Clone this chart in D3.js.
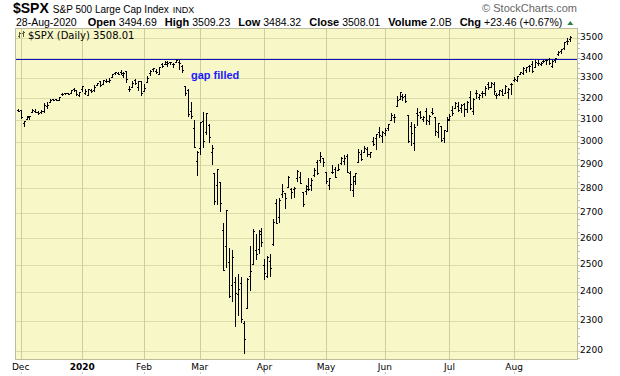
<!DOCTYPE html>
<html>
<head>
<meta charset="utf-8">
<script src="https://cdn.jsdelivr.net/npm/d3@7/dist/d3.min.js"></script>
<style>
  body { margin: 0; background: #fff; }
  svg { display: block; }
</style>
</head>
<body>
<div id="chart"><svg width="620" height="376"></svg></div>
<script>
// ---- data: $SPX daily bars, 29-Nov-2019 .. 28-Aug-2020 ----
const dates = [
  "2019-11-29",
  "2019-12-02","2019-12-03","2019-12-04","2019-12-05","2019-12-06","2019-12-09","2019-12-10","2019-12-11","2019-12-12","2019-12-13",
  "2019-12-16","2019-12-17","2019-12-18","2019-12-19","2019-12-20","2019-12-23","2019-12-24","2019-12-26","2019-12-27","2019-12-30","2019-12-31",
  "2020-01-02","2020-01-03","2020-01-06","2020-01-07","2020-01-08","2020-01-09","2020-01-10","2020-01-13","2020-01-14","2020-01-15","2020-01-16",
  "2020-01-17","2020-01-21","2020-01-22","2020-01-23","2020-01-24","2020-01-27","2020-01-28","2020-01-29","2020-01-30","2020-01-31",
  "2020-02-03","2020-02-04","2020-02-05","2020-02-06","2020-02-07","2020-02-10","2020-02-11","2020-02-12","2020-02-13","2020-02-14",
  "2020-02-18","2020-02-19","2020-02-20","2020-02-21","2020-02-24","2020-02-25","2020-02-26","2020-02-27","2020-02-28",
  "2020-03-02","2020-03-03","2020-03-04","2020-03-05","2020-03-06","2020-03-09","2020-03-10","2020-03-11","2020-03-12","2020-03-13",
  "2020-03-16","2020-03-17","2020-03-18","2020-03-19","2020-03-20","2020-03-23","2020-03-24","2020-03-25","2020-03-26","2020-03-27","2020-03-30","2020-03-31",
  "2020-04-01","2020-04-02","2020-04-03","2020-04-06","2020-04-07","2020-04-08","2020-04-09","2020-04-13","2020-04-14","2020-04-15","2020-04-16",
  "2020-04-17","2020-04-20","2020-04-21","2020-04-22","2020-04-23","2020-04-24","2020-04-27","2020-04-28","2020-04-29","2020-04-30",
  "2020-05-01","2020-05-04","2020-05-05","2020-05-06","2020-05-07","2020-05-08","2020-05-11","2020-05-12","2020-05-13","2020-05-14",
  "2020-05-15","2020-05-18","2020-05-19","2020-05-20","2020-05-21","2020-05-22","2020-05-26","2020-05-27","2020-05-28","2020-05-29",
  "2020-06-01","2020-06-02","2020-06-03","2020-06-04","2020-06-05","2020-06-08","2020-06-09","2020-06-10","2020-06-11","2020-06-12","2020-06-15",
  "2020-06-16","2020-06-17","2020-06-18","2020-06-19","2020-06-22","2020-06-23","2020-06-24","2020-06-25","2020-06-26","2020-06-29","2020-06-30",
  "2020-07-01","2020-07-02","2020-07-06","2020-07-07","2020-07-08","2020-07-09","2020-07-10","2020-07-13","2020-07-14","2020-07-15","2020-07-16",
  "2020-07-17","2020-07-20","2020-07-21","2020-07-22","2020-07-23","2020-07-24","2020-07-27","2020-07-28","2020-07-29","2020-07-30","2020-07-31",
  "2020-08-03","2020-08-04","2020-08-05","2020-08-06","2020-08-07","2020-08-10","2020-08-11","2020-08-12","2020-08-13","2020-08-14",
  "2020-08-17","2020-08-18","2020-08-19","2020-08-20","2020-08-21","2020-08-24","2020-08-25","2020-08-26","2020-08-27","2020-08-28"
];

const opens = [
  3147.18,
  3143.85,3087.41,3103.50,3119.21,3134.62,3141.86,3135.36,3135.75,3141.23,3166.65,3183.63,3195.40,3195.21,3192.32,3223.33,3226.05,3225.45,3227.20,3247.23,3240.09,3215.18,
  3244.67,3226.36,3217.55,3241.86,3238.59,3266.03,3281.81,3271.13,3285.35,3282.27,3302.97,3323.66,3321.03,3330.02,3315.77,3333.10,3247.16,3255.35,3289.46,3256.45,3282.33,
  3235.66,3280.61,3324.91,3344.92,3335.54,3318.28,3365.87,3370.50,3365.90,3378.08,3369.04,3380.39,3380.45,3360.50,3257.61,3238.94,3139.90,3062.54,2916.90,
  2974.28,3096.46,3045.75,3075.70,2954.20,2863.89,2813.48,2825.60,2630.86,2569.99,2508.59,2425.66,2436.50,2393.48,2431.94,2290.71,2344.44,2457.77,2501.29,2555.87,2558.98,2614.69,
  2498.08,2458.54,2514.92,2578.28,2738.65,2685.00,2776.99,2782.46,2805.10,2795.64,2799.34,2842.43,2845.62,2784.81,2787.89,2810.42,2812.64,2854.65,2909.96,2918.46,2930.91,
  2869.09,2815.01,2868.88,2883.14,2878.26,2908.83,2915.46,2939.50,2865.86,2794.54,2829.95,2913.86,2948.59,2953.63,2969.95,2948.05,3004.08,3015.65,3046.61,3025.17,
  3038.78,3064.78,3098.90,3111.56,3163.84,3199.92,3213.32,3213.42,3123.53,3071.04,2993.76,3131.00,3136.13,3101.64,3140.29,3094.42,3138.70,3114.40,3046.60,3073.20,3018.59,3050.20,
  3105.92,3143.64,3155.29,3166.44,3153.07,3176.17,3152.47,3205.08,3141.11,3225.98,3208.36,3224.21,3224.29,3268.52,3254.86,3271.64,3218.58,3219.84,3234.27,3227.22,3231.76,3270.45,
  3288.26,3289.92,3317.37,3323.17,3340.05,3356.04,3370.34,3355.46,3372.95,3368.66,3380.86,3387.04,3392.51,3360.48,3386.01,3418.09,3435.95,3449.97,3485.14,3494.69
];

const highs = [
  3150.30,
  3144.31,3094.97,3119.38,3119.45,3150.60,3148.87,3142.12,3143.98,3176.28,3182.68,3197.71,3198.22,3198.48,3205.48,3225.65,3227.78,3226.43,3240.08,3247.93,3240.92,3231.72,
  3258.14,3246.15,3246.84,3244.91,3267.07,3275.58,3282.99,3288.13,3294.25,3298.66,3317.11,3329.88,3329.79,3337.77,3326.88,3333.18,3258.85,3285.78,3293.47,3285.91,3282.33,
  3268.44,3306.92,3337.58,3347.96,3341.42,3352.26,3375.63,3381.47,3385.09,3380.69,3375.01,3393.52,3389.15,3360.76,3259.81,3246.99,3182.51,3097.07,2959.72,
  3090.96,3136.72,3130.97,3083.04,2985.93,2863.89,2882.59,2825.60,2660.95,2711.33,2562.98,2553.93,2453.57,2466.97,2453.01,2300.73,2449.71,2571.42,2637.01,2615.91,2631.80,2641.39,
  2522.75,2533.22,2538.18,2676.85,2756.89,2760.75,2818.57,2782.46,2851.85,2801.88,2806.51,2879.22,2868.98,2785.54,2815.10,2844.90,2842.71,2887.72,2921.15,2954.86,2930.91,
  2869.09,2844.24,2898.23,2891.11,2901.92,2932.16,2944.25,2945.82,2874.14,2852.80,2865.01,2968.09,2964.21,2980.29,2978.50,2956.76,3021.72,3036.25,3068.67,3049.17,
  3062.18,3081.07,3130.94,3128.91,3211.72,3233.13,3222.71,3223.27,3123.53,3088.42,3079.76,3153.45,3141.16,3120.00,3155.53,3120.92,3154.90,3115.01,3086.25,3073.73,3053.89,3111.51,
  3128.44,3165.81,3182.59,3184.15,3171.80,3179.78,3186.82,3235.32,3200.95,3238.28,3220.39,3233.52,3258.61,3277.29,3279.32,3279.99,3227.26,3241.43,3243.72,3264.74,3250.92,3272.17,
  3302.73,3306.84,3330.77,3351.03,3352.54,3363.29,3381.01,3387.89,3387.24,3378.51,3387.59,3395.06,3399.54,3390.80,3399.96,3432.09,3444.21,3481.07,3501.38,3509.23
];

const lows = [
  3139.34,
  3110.78,3070.33,3102.53,3103.76,3134.62,3135.46,3126.09,3133.21,3138.47,3156.51,3183.63,3191.03,3191.14,3192.32,3216.03,3222.30,3220.51,3227.20,3234.37,3216.57,3212.03,
  3235.53,3222.34,3214.64,3232.43,3236.67,3263.67,3260.86,3268.43,3277.19,3280.69,3302.82,3318.86,3316.61,3320.04,3301.87,3281.53,3234.50,3253.22,3271.89,3242.80,3214.68,
  3235.66,3280.61,3313.75,3334.39,3322.12,3317.77,3352.72,3369.72,3360.52,3366.15,3355.61,3378.83,3341.02,3328.45,3214.65,3118.77,3108.99,2977.39,2855.84,
  2945.19,2976.63,3034.38,2999.83,2901.54,2734.43,2734.00,2707.22,2478.86,2492.37,2380.94,2367.04,2280.52,2319.78,2295.56,2191.86,2344.44,2407.53,2500.72,2520.02,2545.28,2571.15,
  2447.49,2455.79,2459.96,2574.57,2657.67,2663.30,2762.36,2721.17,2805.10,2761.54,2764.32,2830.88,2820.43,2727.10,2775.95,2794.26,2791.76,2852.89,2860.71,2912.16,2892.47,
  2821.61,2797.85,2863.55,2847.65,2876.48,2902.88,2903.44,2869.59,2793.15,2766.64,2816.78,2913.86,2922.35,2953.63,2938.57,2933.59,2988.17,2969.75,3023.40,2998.61,
  3031.54,3051.64,3098.90,3090.41,3163.84,3196.00,3193.11,3181.49,2999.49,2984.47,2965.66,3076.06,3108.03,3093.51,3083.11,3079.39,3127.12,3032.13,3024.01,3004.63,2999.74,3047.83,
  3101.17,3124.52,3155.29,3142.93,3136.53,3115.70,3136.22,3149.43,3127.66,3200.76,3198.59,3205.65,3215.16,3247.77,3253.10,3222.66,3200.05,3214.25,3216.17,3227.22,3204.13,3220.26,
  3284.53,3286.37,3317.37,3318.14,3328.72,3335.44,3326.44,3355.46,3363.35,3361.64,3379.22,3370.15,3369.66,3354.69,3379.31,3413.13,3425.84,3444.15,3468.35,3484.32
];

const closes = [
  3140.98,
  3113.87,3093.20,3112.76,3117.43,3145.91,3135.96,3132.52,3141.63,3168.57,3168.80,3191.45,3192.52,3191.14,3205.37,3221.22,3224.01,3223.38,3239.91,3240.02,3221.29,3230.78,
  3257.85,3234.85,3246.28,3237.18,3253.05,3274.70,3265.35,3288.13,3283.15,3289.29,3316.81,3329.62,3320.79,3321.75,3325.54,3295.47,3243.63,3276.24,3273.40,3283.66,3225.52,
  3248.92,3297.59,3334.69,3345.78,3327.71,3352.09,3357.75,3379.45,3373.94,3380.16,3370.29,3386.15,3373.23,3337.75,3225.89,3128.21,3116.39,2978.76,2954.22,
  3090.23,3003.37,3130.12,3023.94,2972.37,2746.56,2882.23,2741.38,2480.64,2711.02,2386.13,2529.19,2398.10,2409.39,2304.92,2237.40,2447.33,2475.56,2630.07,2541.47,2626.65,2584.59,
  2470.50,2526.90,2488.65,2663.68,2659.41,2749.98,2789.82,2761.63,2846.06,2783.36,2799.55,2874.56,2823.16,2736.56,2799.31,2797.80,2836.74,2878.48,2863.39,2939.51,2912.43,
  2830.71,2842.74,2868.44,2848.42,2881.19,2929.80,2930.32,2870.12,2820.00,2852.50,2863.70,2953.91,2922.94,2971.61,2948.51,2955.45,2991.77,3036.13,3029.73,3044.31,
  3055.73,3080.82,3122.87,3112.35,3193.93,3232.39,3207.18,3190.14,3002.10,3041.31,3066.59,3124.74,3113.49,3115.34,3097.74,3117.86,3131.29,3050.33,3083.76,3009.05,3053.24,3100.29,
  3115.86,3130.01,3179.72,3145.32,3169.94,3152.05,3185.04,3155.22,3197.52,3226.56,3215.57,3224.73,3251.84,3257.30,3276.02,3235.66,3215.63,3239.41,3218.44,3258.44,3246.22,3271.12,
  3294.61,3306.51,3327.77,3349.16,3351.28,3360.47,3333.69,3380.35,3373.43,3372.85,3381.99,3389.78,3374.85,3385.51,3397.16,3431.28,3443.62,3478.73,3484.55,3508.01
];

const yTicks = [2200, 2300, 2400, 2500, 2600, 2700, 2800, 2900, 3000, 3100, 3200, 3300, 3400, 3500];
const monthLabels = ["Dec", "2020", "Feb", "Mar", "Apr", "May", "Jun", "Jul", "Aug"];
const gapLevel = 3393.52;

const headerDate = "28-Aug-2020";
const headerLabels = ["Open", "High", "Low", "Close", "Volume", "Chg"];
const headerValues = ["3494.69", "3509.23", "3484.32", "3508.01", "2.0B", "+23.46 (+0.67%)"];

/***** SETUP *****/
const svg = d3.select("#chart").select("svg");
const plot = {left: 16, right: 577, top: 29, bottom: 359};
const SANS = "'Liberation Sans', Arial, sans-serif";
const AXIS = "'DejaVu Sans', Verdana, sans-serif";

const x = d3.scaleLinear()
    .domain([0, dates.length - 1])
    .range([17.7, 569.9]);

const y = d3.scaleLog()
    .domain([2173, 3548])
    .range([plot.bottom, plot.top]);

// first trading day of each month
const monthStarts = d3.range(1, dates.length)
    .filter(i => dates[i].slice(0, 7) !== dates[i - 1].slice(0, 7));

/***** BACKGROUND + GRID *****/
svg.append("rect")
    .attr("x", plot.left).attr("y", plot.top)
    .attr("width", plot.right - plot.left).attr("height", plot.bottom - plot.top)
    .attr("fill", "#f8f7c8");

const grid = svg.append("g").attr("shape-rendering", "crispEdges");

grid.selectAll(".hgrid")
    .data(yTicks)
    .join("line")
    .attr("class", "hgrid")
    .attr("x1", plot.left).attr("x2", plot.right)
    .attr("y1", d => Math.round(y(d)) + 0.5).attr("y2", d => Math.round(y(d)) + 0.5)
    .attr("stroke", "#dcdcab");

grid.selectAll(".vgrid")
    .data(monthStarts)
    .join("line")
    .attr("class", "vgrid")
    .attr("x1", d => Math.round(x(d)) + 0.5).attr("x2", d => Math.round(x(d)) + 0.5)
    .attr("y1", plot.top).attr("y2", plot.bottom)
    .attr("stroke", "#cbcf98");

/***** GAP LINE *****/
svg.append("line")
    .attr("shape-rendering", "crispEdges")
    .attr("x1", plot.left).attr("x2", plot.right)
    .attr("y1", Math.round(y(gapLevel)) + 0.5).attr("y2", Math.round(y(gapLevel)) + 0.5)
    .attr("stroke", "#1010c0");

/***** OHLC BARS *****/
const bars = svg.append("g")
    .attr("shape-rendering", "crispEdges")
    .attr("stroke", "#000")
    .attr("fill", "none");

bars.selectAll("path")
    .data(d3.range(dates.length))
    .join("path")
    .attr("d", i => {
        const xr = Math.round(x(i));
        const yh = Math.round(y(highs[i]));
        const yl = Math.round(y(lows[i]));
        const yo = Math.round(y(opens[i])) + 0.5;
        const yc = Math.round(y(closes[i])) + 0.5;
        return `M${xr + 0.5},${yh}V${Math.max(yl + 1, yh + 1)}`
             + `M${xr - 1},${yo}H${xr + 0.5}`
             + `M${xr + 0.5},${yc}H${xr + 2}`;
    });

/***** FRAME + AXES *****/
const frame = svg.append("g").attr("shape-rendering", "crispEdges").attr("stroke", "#bdbd9e");
frame.append("line").attr("x1", plot.left - 0.5).attr("x2", plot.left - 0.5).attr("y1", plot.top).attr("y2", plot.bottom + 1);
frame.append("line").attr("x1", plot.right + 0.5).attr("x2", plot.right + 0.5).attr("y1", plot.top).attr("y2", plot.bottom + 1);
frame.append("line").attr("x1", plot.left - 1).attr("x2", plot.right + 1).attr("y1", plot.bottom + 0.5).attr("y2", plot.bottom + 0.5);
frame.append("line").attr("x1", plot.left - 1).attr("x2", plot.right + 1).attr("y1", plot.top - 0.5).attr("y2", plot.top - 0.5);

// right axis: minor ticks and dotted stubs out to the labels
const minor = d3.range(2175, 3550, 25);
frame.selectAll(".minor")
    .data(minor)
    .join("line")
    .attr("class", "minor")
    .attr("x1", plot.right + 1).attr("x2", plot.right + 3)
    .attr("y1", d => Math.round(y(d)) + 0.5).attr("y2", d => Math.round(y(d)) + 0.5)
    .attr("stroke", "#c4c4b0");

svg.append("g")
    .attr("transform", `translate(${plot.right + 3},0)`)
    .call(d3.axisRight(y).tickValues(yTicks).tickFormat(d3.format("d")).tickSize(0).tickPadding(0))
    .call(g => g.select(".domain").remove())
    .call(g => g.selectAll("text")
        .attr("x", 0)
        .attr("dy", "0.2em")
        .attr("fill", "#000")
        .style("font-family", AXIS)
        .style("font-size", "9px"));

// bottom axis month labels
svg.append("g")
    .selectAll("text")
    .data(monthStarts)
    .join("text")
    .attr("x", d => x(d))
    .attr("y", 370)
    .attr("text-anchor", "middle")
    .style("font-family", AXIS)
    .style("font-size", "9px")
    .style("font-weight", (d, i) => monthLabels[i] === "2020" ? "bold" : "normal")
    .text((d, i) => monthLabels[i]);

svg.append("g")
    .attr("shape-rendering", "crispEdges")
    .selectAll("line")
    .data(monthStarts)
    .join("line")
    .attr("x1", d => Math.round(x(d)) + 0.5).attr("x2", d => Math.round(x(d)) + 0.5)
    .attr("y1", 372).attr("y2", 374)
    .attr("stroke", "#c8c8c8");

/***** ANNOTATIONS *****/
svg.append("text")
    .attr("x", 191).attr("y", 79)
    .style("font-family", SANS).style("font-size", "11px").style("font-weight", "bold")
    .attr("fill", "#1a1aff")
    .text("gap filled");

// legend: small bar glyph + series name
const icon = svg.append("g").attr("stroke", "#5a5a30").attr("shape-rendering", "crispEdges");
icon.append("path").attr("d", "M19.5,32V38M18,36.5H19.5M19.5,33.5H21");
icon.append("path").attr("d", "M23.5,31V37M22,33.5H23.5M23.5,32.5H25");
svg.append("text")
    .attr("x", 28).attr("y", 39)
    .style("font-family", AXIS).style("font-size", "10px")
    .text("$SPX (Daily) " + closes[closes.length - 1].toFixed(2));

/***** HEADER *****/
const title = svg.append("g");
let tx = 13;
const t1 = title.append("text").attr("x", tx).attr("y", 13)
    .style("font-family", SANS).style("font-size", "14px").style("font-weight", "bold").text("$SPX");
tx += t1.node().getComputedTextLength() + 4;
const t2 = title.append("text").attr("x", tx).attr("y", 13)
    .style("font-family", SANS).style("font-size", "10px").text("S&P 500 Large Cap Index");
tx += t2.node().getComputedTextLength() + 4;
title.append("text").attr("x", tx).attr("y", 13)
    .style("font-family", SANS).style("font-size", "9px").text("INDX");

svg.append("text")
    .attr("x", 577).attr("y", 12)
    .attr("text-anchor", "end")
    .style("font-family", SANS).style("font-size", "11px")
    .attr("fill", "#666")
    .text("\u00a9 StockCharts.com");

let hx = 16;
const hy = 26;
const dateText = svg.append("text").attr("x", hx).attr("y", hy)
    .style("font-family", SANS).style("font-size", "10.5px").text(headerDate);
hx += dateText.node().getComputedTextLength() + 11;
headerLabels.forEach((lab, i) => {
    const a = svg.append("text").attr("x", hx).attr("y", hy)
        .style("font-family", SANS).style("font-size", "11px").style("font-weight", "bold").text(lab);
    hx += a.node().getComputedTextLength() + 3;
    const b = svg.append("text").attr("x", hx).attr("y", hy)
        .style("font-family", SANS).style("font-size", "10.5px").text(headerValues[i]);
    hx += b.node().getComputedTextLength() + 8;
});
svg.append("path")
    .attr("d", `M${hx - 3},${hy - 1}l3,-4l3,4z`)
    .attr("fill", "#2f7f3f");
</script>
</body>
</html>
